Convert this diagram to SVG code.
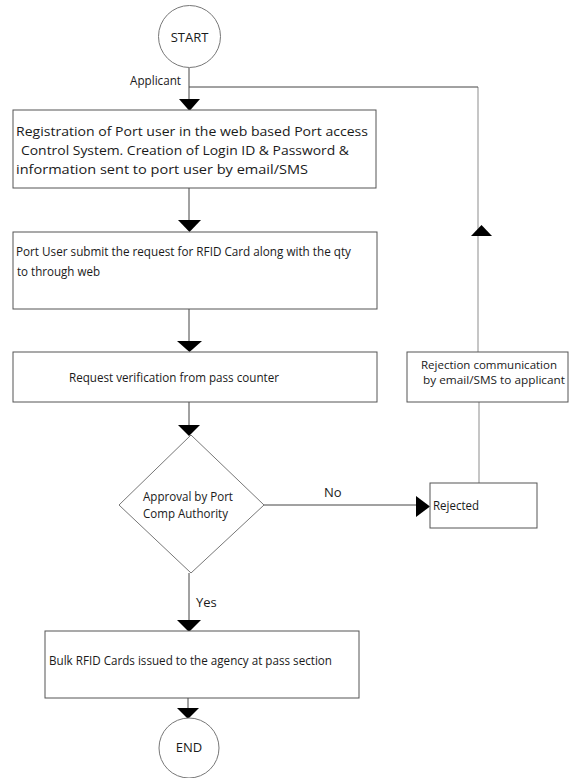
<svg xmlns="http://www.w3.org/2000/svg" width="569" height="778" viewBox="0 0 569 778">
  <style>
    .box { fill: #ffffff; stroke: #555555; stroke-width: 1; }
    .term { fill: #ffffff; stroke: #777777; stroke-width: 1; }
    .line { fill: none; stroke: #444444; stroke-width: 1; }
    .loop { fill: none; stroke: #a0a0a0; stroke-width: 1.2; }
    .head { fill: #000000; stroke: none; }
    text { font-family: "Open Sans", "Liberation Sans", sans-serif; fill: #1a1a1a; }
    .s11 { font-size: 11.5px; }
    .s13 { font-size: 13px; }
    .s14 { font-size: 13.5px; }
  </style>
  <rect width="569" height="778" fill="#ffffff"/>

  <g id="connectors">
    <!-- main flow -->
    <line class="line" x1="189" y1="68" x2="189" y2="100"/>
    <polygon class="head" points="179,99 200,99 189.5,111"/>
    <line class="line" x1="189" y1="188" x2="189" y2="222"/>
    <polygon class="head" points="178,220 201,220 189.5,232"/>
    <line class="line" x1="189" y1="309" x2="189" y2="342"/>
    <polygon class="head" points="177,341 202,341 189.5,352"/>
    <line class="line" x1="189" y1="402" x2="189" y2="426"/>
    <polygon class="head" points="178,425 200,425 189,436"/>
    <line class="line" x1="189" y1="573" x2="189" y2="621"/>
    <polygon class="head" points="177,620 201,620 189,632"/>
    <line class="line" x1="188" y1="698" x2="188" y2="709"/>
    <polygon class="head" points="177,708 199,708 188,719"/>
    <!-- No branch -->
    <line class="line" x1="264" y1="505" x2="417" y2="505"/>
    <polygon class="head" points="416,496 416,517 430,506.5"/>
    <!-- rejection loop back to registration -->
    <line class="loop" x1="479" y1="483" x2="479" y2="402"/>
    <line class="loop" x1="478" y1="352" x2="478" y2="87"/>
    <polygon class="head" points="471,236 492,236 481.5,225"/>
    <line class="line" x1="189" y1="87" x2="478" y2="87"/>
  </g>

  <g id="start">
    <circle class="term" cx="189.5" cy="36.5" r="31"/>
    <text x="189.5" y="42" class="s13" text-anchor="middle">START</text>
  </g>
  <text x="130" y="85" class="s13" textLength="51" lengthAdjust="spacingAndGlyphs">Applicant</text>

  <g id="registration">
    <rect class="box" x="13" y="110" width="363" height="78"/>
    <text x="16" y="136" class="s14" textLength="352" lengthAdjust="spacingAndGlyphs">Registration of Port user in the web based Port access</text>
    <text x="21" y="155" class="s14" textLength="328" lengthAdjust="spacingAndGlyphs">Control System. Creation of Login ID &amp; Password &amp;</text>
    <text x="16" y="174" class="s14" textLength="292" lengthAdjust="spacingAndGlyphs">information sent to port user by  email/SMS</text>
  </g>

  <g id="submit">
    <rect class="box" x="13" y="232" width="364" height="77"/>
    <text x="16" y="256" class="s13" textLength="335" lengthAdjust="spacingAndGlyphs">Port User submit the request for RFID Card along with the qty</text>
    <text x="17" y="276" class="s13" textLength="83" lengthAdjust="spacingAndGlyphs">to through web</text>
  </g>

  <g id="verification">
    <rect class="box" x="13" y="352" width="364" height="50"/>
    <text x="69" y="382" class="s13" textLength="210" lengthAdjust="spacingAndGlyphs">Request verification from pass counter</text>
  </g>

  <g id="approval">
    <polygon class="term" points="191,435 264,505 191,573 119,505"/>
    <text x="143" y="501" class="s13" textLength="90" lengthAdjust="spacingAndGlyphs">Approval by Port</text>
    <text x="143" y="518" class="s13" textLength="85" lengthAdjust="spacingAndGlyphs">Comp Authority</text>
  </g>
  <text x="324" y="497" class="s13">No</text>
  <text x="196" y="607" class="s13">Yes</text>

  <g id="rejected">
    <rect class="box" x="430" y="483" width="107" height="45"/>
    <text x="433" y="510" class="s13" textLength="46" lengthAdjust="spacingAndGlyphs">Rejected</text>
  </g>

  <g id="rejection-communication">
    <rect class="box" x="407" y="352" width="161" height="50"/>
    <text x="421" y="369" class="s11" textLength="136" lengthAdjust="spacingAndGlyphs">Rejection communication</text>
    <text x="423" y="384" class="s11" textLength="142" lengthAdjust="spacingAndGlyphs">by email/SMS to applicant</text>
  </g>

  <g id="bulk-issue">
    <rect class="box" x="45" y="631" width="314" height="67"/>
    <text x="49" y="665" class="s13" textLength="283" lengthAdjust="spacingAndGlyphs">Bulk RFID Cards issued  to the agency at pass section</text>
  </g>

  <g id="end">
    <circle class="term" cx="189" cy="748" r="30"/>
    <text x="189" y="752" class="s13" text-anchor="middle">END</text>
  </g>
</svg>
